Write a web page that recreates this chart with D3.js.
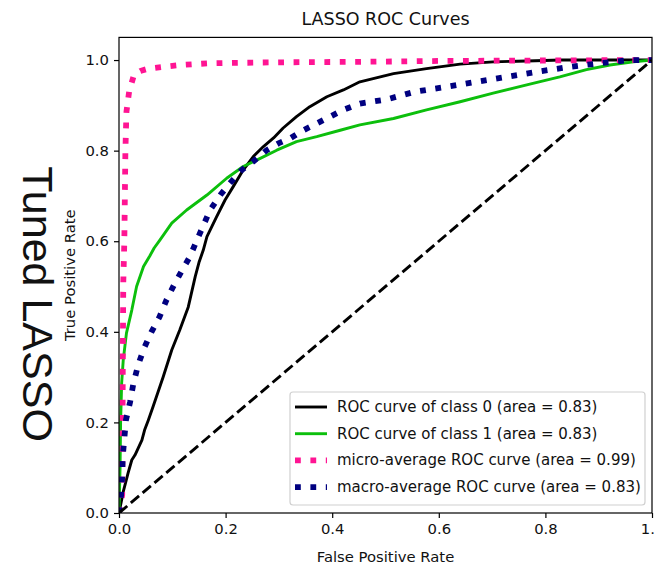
<!DOCTYPE html>
<html>
<head>
<meta charset="utf-8">
<script src="https://cdn.jsdelivr.net/npm/d3@7"></script>
<style>
  html, body { margin: 0; padding: 0; background: #fff; }
  svg { display: block; }
  text { font-family: "DejaVu Sans", sans-serif; fill: #111; }
</style>
</head>
<body>
<script>
// ROC curves of the tuned LASSO model (false positive rate vs true positive rate)
const class0Fpr = [0, .008, .017, .024, .03, .043, .048, .055, .064, .083, .099, .114, .13, .143, .150, .158, .165, .183, .199, .214, .233, .252, .271, .290, .308, .333, .358, .39, .421, .452, .515, .577, .64, .702, .765, .83, 1];
const class0Tpr = [0, .047, .088, .117, .128, .161, .183, .205, .235, .301, .36, .404, .455, .522, .553, .58, .61, .654, .691, .72, .757, .787, .809, .828, .850, .875, .897, .919, .934, .952, .97, .981, .991, .996, .998, 1, 1];

const class1Fpr = [0, .002, .003, .005, .008, .014, .024, .033, .046, .058, .066, .077, .099, .127, .165, .202, .233, .265, .296, .333, .371, .415, .452, .515, .577, .64, .702, .765, .827, .877, .921, .965, 1];
const class1Tpr = [0, .1, .2, .287, .338, .397, .448, .5, .544, .568, .585, .603, .64, .669, .702, .739, .765, .783, .801, .82, .831, .845, .857, .871, .89, .908, .927, .945, .963, .979, .989, .996, 1];

const microFpr = [0, .006, .007, .008, .01, .011, .012, .014, .019, .028, .04, .055, .083, .114, .171, .3, .448, .6, .8, 1];
const microTpr = [0, .04, .3, .507, .6, .7, .8, .886, .93, .967, .976, .981, .985, .989, .993, .995, .996, .998, .999, 1];

const macroFpr = [0, .004, .006, .007, .01, .013, .021, .027, .036, .047, .061, .076, .089, .103, .118, .133, .149, .171, .19, .208, .23, .252, .277, .299, .321, .346, .371, .396, .421, .452, .502, .555, .615, .671, .727, .784, .846, .902, .959, 1];
const macroTpr = [0, .04, .08, .124, .165, .205, .246, .286, .327, .364, .4, .433, .47, .503, .535, .566, .61, .669, .702, .728, .757, .776, .801, .816, .827, .845, .86, .875, .89, .904, .913, .93, .941, .952, .963, .974, .985, .993, 1, 1];

const curveNames = [
  "ROC curve of class 0 (area = 0.83)",
  "ROC curve of class 1 (area = 0.83)",
  "micro-average ROC curve (area = 0.99)",
  "macro-average ROC curve (area = 0.83)"
];
const tickValues = [0, 0.2, 0.4, 0.6, 0.8, 1.0];
const titleText = "LASSO ROC Curves";
const xLabel = "False Positive Rate";
const yLabel = "True Positive Rate";
const sideLabel = "Tuned LASSO";

const W = 655, H = 571;
const plot = { left: 119, right: 652, top: 37.4, bottom: 513 };

const svg = d3.select("body").append("svg")
  .attr("width", W).attr("height", H)
  .style("overflow", "visible");

const x = d3.scaleLinear().domain([0, 1]).range([plot.left, plot.right]);
const y = d3.scaleLinear().domain([0, 1.05]).range([plot.bottom, plot.top]);

const zip = (xs, ys) => xs.map((v, i) => [v, ys[i]]);
const series = [
  { pts: zip(class0Fpr, class0Tpr), color: "#000000", width: 2.9, dash: null },
  { pts: zip(class1Fpr, class1Tpr), color: "#0cbf0c", width: 2.9, dash: null },
  { pts: zip(microFpr, microTpr), color: "#ff1493", width: 5.8, dash: "5.8,9.6" },
  { pts: zip(macroFpr, macroTpr), color: "#000080", width: 5.8, dash: "5.8,9.6" }
];

const line = d3.line().x(d => x(d[0])).y(d => y(d[1]));

svg.append("clipPath").attr("id", "plotClip")
  .append("rect")
  .attr("x", plot.left).attr("y", plot.top)
  .attr("width", plot.right - plot.left).attr("height", plot.bottom - plot.top);

const g = svg.append("g").attr("clip-path", "url(#plotClip)");

series.forEach(s => {
  g.append("path")
    .attr("d", line(s.pts))
    .attr("fill", "none")
    .attr("stroke", s.color)
    .attr("stroke-width", s.width)
    .attr("stroke-linejoin", "round")
    .attr("stroke-linecap", s.dash ? "butt" : "round")
    .attr("stroke-dasharray", s.dash);
});

// chance diagonal
g.append("path")
  .attr("d", line([[0, 0], [1, 1]]))
  .attr("fill", "none")
  .attr("stroke", "#000")
  .attr("stroke-width", 2.9)
  .attr("stroke-dasharray", "10.8,4.7");

// axes
const xAxis = d3.axisBottom(x).tickValues(tickValues).tickFormat(d3.format(".1f")).tickSizeOuter(0).tickSize(5).tickPadding(5);
const yAxis = d3.axisLeft(y).tickValues(tickValues).tickFormat(d3.format(".1f")).tickSizeOuter(0).tickSize(5).tickPadding(5);

const gx = svg.append("g").attr("transform", `translate(0,${plot.bottom})`).call(xAxis);
const gy = svg.append("g").attr("transform", `translate(${plot.left},0)`).call(yAxis);
[gx, gy].forEach(a => {
  a.select(".domain").remove();
  a.selectAll(".tick line").attr("stroke", "#000").attr("stroke-width", 1.2);
  a.selectAll(".tick text").style("font-size", "14.8px").style("font-family", "DejaVu Sans").attr("fill", "#111");
});

// frame
svg.append("rect")
  .attr("x", plot.left).attr("y", plot.top)
  .attr("width", plot.right - plot.left).attr("height", plot.bottom - plot.top)
  .attr("fill", "none").attr("stroke", "#000").attr("stroke-width", 1.2);

// titles
svg.append("text").attr("x", (plot.left + plot.right) / 2).attr("y", 25)
  .attr("text-anchor", "middle").style("font-size", "17.5px").text(titleText);
svg.append("text").attr("x", (plot.left + plot.right) / 2).attr("y", 562)
  .attr("text-anchor", "middle").style("font-size", "14.8px").text(xLabel);
svg.append("text")
  .attr("transform", `translate(75,${(plot.top + plot.bottom) / 2}) rotate(-90)`)
  .attr("text-anchor", "middle").style("font-size", "14.8px").text(yLabel);
svg.append("text")
  .attr("transform", `translate(23,304) rotate(90)`)
  .attr("text-anchor", "middle")
  .style("font-family", "'Liberation Sans', Arial, sans-serif")
  .style("font-size", "43px").attr("fill", "#000")
  .text(sideLabel);

// legend
const leg = { x: 290, y: 392, w: 355, h: 113 };
svg.append("rect")
  .attr("x", leg.x).attr("y", leg.y).attr("width", leg.w).attr("height", leg.h)
  .attr("rx", 3).attr("fill", "#fff").attr("fill-opacity", 0.8)
  .attr("stroke", "#d0d0d0").attr("stroke-width", 1.2);

series.forEach((s, i) => {
  const cy = 407 + i * 26.7;
  svg.append("line")
    .attr("x1", 295).attr("x2", 327).attr("y1", cy).attr("y2", cy)
    .attr("stroke", s.color).attr("stroke-width", s.width)
    .attr("stroke-dasharray", s.dash);
  svg.append("text").attr("x", 337).attr("y", cy + 5)
    .style("font-size", "15px").text(curveNames[i]);
});
</script>
</body>
</html>
